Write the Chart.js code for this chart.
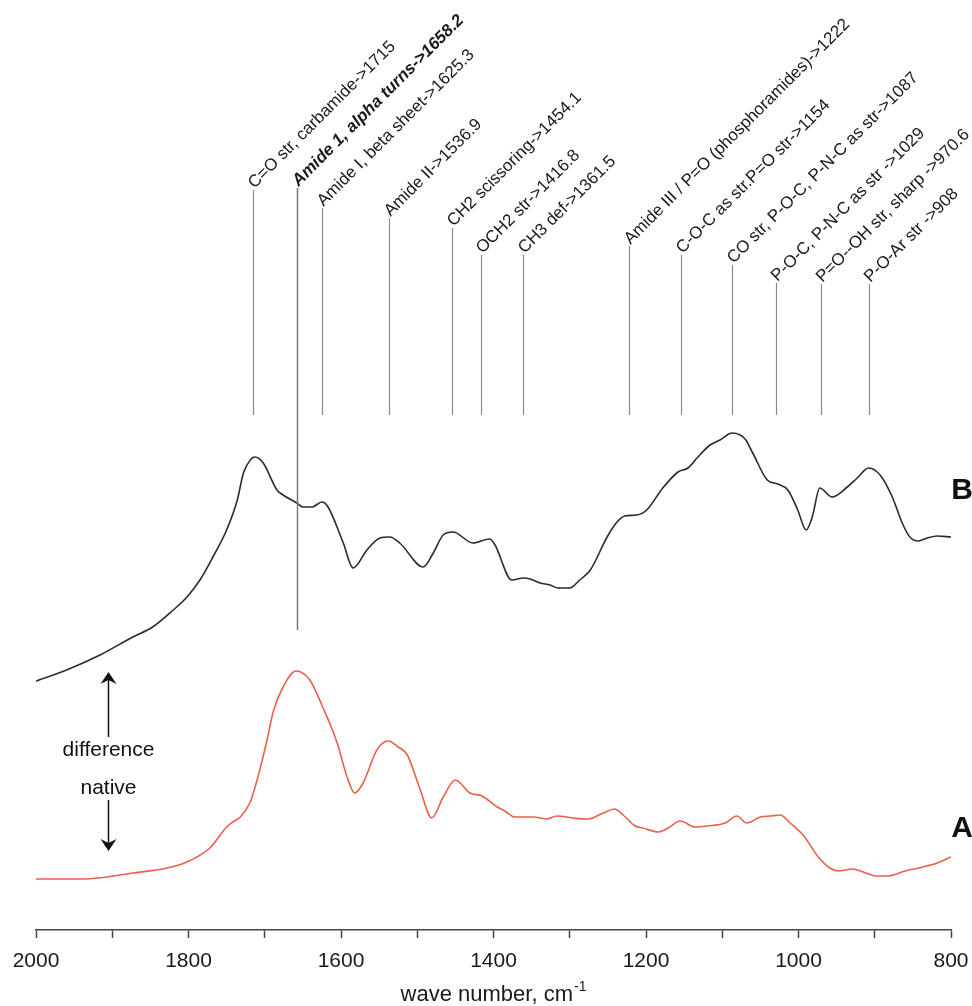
<!DOCTYPE html>
<html>
<head>
<meta charset="utf-8">
<title>FTIR spectra</title>
<script src="https://cdn.jsdelivr.net/npm/chart.js@4.4.1/dist/chart.umd.min.js"></script>
<style>
  html, body { margin: 0; padding: 0; background: #fff; overflow: hidden; }
  canvas { display: block; }
</style>
</head>
<body>
<canvas id="spectra" width="972" height="1006"></canvas>
<script>
// Curve B (difference spectrum): wave number (cm-1) and absorbance, arbitrary units
const diffWave = [2000, 1960, 1916, 1873, 1847, 1820, 1802, 1785, 1768, 1750,
  1736, 1728, 1719, 1713, 1702, 1684, 1676, 1658, 1650, 1638,
  1625, 1617, 1597, 1584, 1566, 1549, 1536, 1523, 1492, 1479,
  1466, 1453, 1427, 1405, 1398, 1376, 1361, 1352, 1339, 1326,
  1315, 1300, 1287, 1273, 1251, 1238, 1228, 1212, 1199, 1178,
  1158, 1145, 1132, 1116, 1103, 1087, 1070, 1060, 1041, 1027,
  1014, 1001, 990, 982, 972, 956, 936, 923, 908, 893,
  877, 864, 854, 843, 831, 818, 800];
const diffAbs = [0.249, 0.260, 0.275, 0.293, 0.303, 0.320, 0.333, 0.350, 0.373, 0.400,
  0.430, 0.457, 0.470, 0.473, 0.467, 0.440, 0.435, 0.427, 0.423, 0.423,
  0.428, 0.423, 0.387, 0.362, 0.380, 0.392, 0.393, 0.387, 0.363, 0.377,
  0.395, 0.398, 0.387, 0.391, 0.385, 0.350, 0.352, 0.351, 0.347, 0.345,
  0.342, 0.342, 0.350, 0.360, 0.393, 0.408, 0.414, 0.415, 0.420, 0.442,
  0.458, 0.462, 0.473, 0.485, 0.490, 0.497, 0.491, 0.477, 0.450, 0.446,
  0.440, 0.420, 0.400, 0.413, 0.442, 0.433, 0.443, 0.452, 0.462, 0.455,
  0.433, 0.407, 0.393, 0.389, 0.392, 0.394, 0.393];

// Curve A (native protein)
const nativeWave = [2000, 1938, 1873, 1828, 1802, 1772, 1750, 1742, 1732, 1719,
  1709, 1697, 1689, 1676, 1659, 1641, 1624, 1605, 1592, 1582,
  1571, 1553, 1538, 1525, 1513, 1496, 1481, 1466, 1450, 1431,
  1415, 1395, 1385, 1372, 1348, 1330, 1317, 1296, 1276, 1256,
  1241, 1230, 1214, 1204, 1184, 1171, 1155, 1136, 1120, 1096,
  1081, 1068, 1050, 1037, 1024, 1011, 994, 974, 959, 948,
  929, 915, 897, 884, 860, 837, 818, 800];
const nativeAbs = [0.051, 0.051, 0.057, 0.062, 0.068, 0.082, 0.103, 0.108, 0.113, 0.128,
  0.153, 0.190, 0.218, 0.243, 0.259, 0.250, 0.223, 0.187, 0.153, 0.137,
  0.147, 0.180, 0.189, 0.183, 0.175, 0.140, 0.112, 0.133, 0.150, 0.137,
  0.134, 0.123, 0.119, 0.113, 0.113, 0.111, 0.114, 0.112, 0.111, 0.117,
  0.121, 0.115, 0.104, 0.102, 0.098, 0.102, 0.109, 0.103, 0.104, 0.107,
  0.114, 0.107, 0.113, 0.114, 0.115, 0.107, 0.095, 0.073, 0.062, 0.059,
  0.061, 0.058, 0.054, 0.054, 0.059, 0.063, 0.067, 0.073];

// band assignments
const bandWave = [1715, 1658.2, 1625.3, 1536.9, 1454.1, 1416.8, 1361.5, 1222, 1154, 1087, 1029, 970.6, 908];
const bandText = [
  'C=O str, carbamide->1715',
  'Amide 1, alpha turns->1658.2',
  'Amide I, beta sheet->1625.3',
  'Amide II->1536.9',
  'CH2 scissoring->1454.1',
  'OCH2 str->1416.8',
  'CH3 def->1361.5',
  'Amide III / P=O (phosphoramides)->1222',
  'C-O-C as str.P=O str->1154',
  'CO str, P-O-C, P-N-C as str->1087',
  'P-O-C, P-N-C as str ->1029',
  'P=O--OH str, sharp ->970.6',
  'P-O-Ar str ->908'
];

const xTickLabels = [2000, 1800, 1600, 1400, 1200, 1000, 800];
const FONT = '"Liberation Sans", Arial, Helvetica, sans-serif';

// top end of each marker line (absorbance units), the highlighted band runs further down
const markTop = [0.740, 0.742, 0.722, 0.712, 0.702, 0.675, 0.675, 0.684, 0.675, 0.665, 0.647, 0.646, 0.646];
const markBottom = 0.515;
const boldBand = 1;
const boldBottom = 0.300;

const toPoints = (xs, ys) => xs.map((w, i) => ({ x: w, y: ys[i] }));

const bandMarks = {
  id: 'bandMarks',
  afterDatasetsDraw(chart) {
    const { ctx, scales: { x, y } } = chart;
    ctx.save();
    bandWave.forEach((w, i) => {
      const px = Math.round(x.getPixelForValue(w)) + 0.5;
      const top = y.getPixelForValue(markTop[i]);
      const bottom = y.getPixelForValue(i === boldBand ? boldBottom : markBottom);
      ctx.strokeStyle = i === boldBand ? '#7a7a7a' : '#8a8a8a';
      ctx.lineWidth = i === boldBand ? 1.5 : 1.2;
      ctx.beginPath();
      ctx.moveTo(px, top);
      ctx.lineTo(px, bottom);
      ctx.stroke();

      ctx.save();
      ctx.translate(px + 1, top - 1);
      ctx.rotate(-Math.PI / 4);
      ctx.fillStyle = '#1a1a1a';
      ctx.font = (i === boldBand ? 'italic bold ' : '') + '17px ' + FONT;
      ctx.textAlign = 'left';
      ctx.textBaseline = 'alphabetic';
      ctx.fillText(bandText[i], 0, 0);
      ctx.restore();
    });
    ctx.restore();
  }
};

function arrowHead(ctx, x, tipY, dir) {
  // dir = -1 points up, 1 points down
  ctx.beginPath();
  ctx.moveTo(x, tipY);
  ctx.lineTo(x + 8, tipY - dir * 12);
  ctx.lineTo(x, tipY - dir * 8);
  ctx.lineTo(x - 8, tipY - dir * 12);
  ctx.closePath();
  ctx.fill();
}

const sideNotes = {
  id: 'sideNotes',
  afterDraw(chart) {
    const { ctx, chartArea, scales: { x, y } } = chart;
    ctx.save();
    ctx.fillStyle = '#111';
    ctx.strokeStyle = '#111';

    // difference / native arrows
    const ax = Math.round(x.getPixelForValue(1905)) + 0.5;
    ctx.lineWidth = 1.5;
    ctx.beginPath();
    ctx.moveTo(ax, y.getPixelForValue(0.254));
    ctx.lineTo(ax, y.getPixelForValue(0.193));
    ctx.moveTo(ax, y.getPixelForValue(0.130));
    ctx.lineTo(ax, y.getPixelForValue(0.083));
    ctx.stroke();
    arrowHead(ctx, ax, y.getPixelForValue(0.258), -1);
    arrowHead(ctx, ax, y.getPixelForValue(0.079), 1);

    ctx.font = '21px ' + FONT;
    ctx.textAlign = 'center';
    ctx.textBaseline = 'middle';
    ctx.fillText('difference', ax, y.getPixelForValue(0.180));
    ctx.fillText('native', ax, y.getPixelForValue(0.142));

    // curve letters
    ctx.font = 'bold 30px ' + FONT;
    ctx.fillText('B', chartArea.right + 11, y.getPixelForValue(0.439));
    ctx.fillText('A', chartArea.right + 11, y.getPixelForValue(0.101));

    // tick labels under the major ticks
    ctx.fillStyle = '#1a1a1a';
    ctx.font = '21px ' + FONT;
    ctx.textBaseline = 'alphabetic';
    xTickLabels.forEach((v) => {
      ctx.fillText(String(v), x.getPixelForValue(v), chartArea.bottom + 37);
    });

    // axis title with superscript unit
    const main = 'wave number, cm';
    const sup = '-1';
    ctx.font = '22px ' + FONT;
    const wMain = ctx.measureText(main).width;
    ctx.font = '14px ' + FONT;
    const wSup = ctx.measureText(sup).width;
    const left = (chartArea.left + chartArea.right) / 2 - (wMain + wSup + 1) / 2;
    ctx.textAlign = 'left';
    ctx.font = '22px ' + FONT;
    ctx.fillText(main, left, chartArea.bottom + 71);
    ctx.font = '14px ' + FONT;
    ctx.fillText(sup, left + wMain + 1, chartArea.bottom + 61);
    ctx.restore();
  }
};

new Chart(document.getElementById('spectra'), {
  type: 'line',
  data: {
    datasets: [
      {
        label: 'B difference',
        data: toPoints(diffWave, diffAbs),
        borderColor: '#2b2b2b',
        borderWidth: 1.6,
        pointRadius: 0,
        cubicInterpolationMode: 'monotone',
        fill: false
      },
      {
        label: 'A native',
        data: toPoints(nativeWave, nativeAbs),
        borderColor: '#e8604e',
        borderWidth: 1.6,
        pointRadius: 0,
        cubicInterpolationMode: 'monotone',
        fill: false
      }
    ]
  },
  options: {
    responsive: false,
    animation: false,
    layout: { padding: { left: 36, right: 21, top: 0, bottom: 0 } },
    plugins: { legend: { display: false }, tooltip: { enabled: false } },
    scales: {
      x: {
        type: 'linear',
        min: 800,
        max: 2000,
        reverse: true,
        afterFit: (scale) => { scale.height = 76; },
        border: { display: true, color: '#444', width: 1.5 },
        grid: { display: true, drawOnChartArea: false, drawTicks: true, tickLength: 8, tickColor: '#444', tickWidth: 1.5 },
        ticks: {
          stepSize: 100,
          autoSkip: false,
          maxRotation: 0,
          display: false
        }
      },
      y: {
        display: false,
        min: 0,
        max: 0.93
      }
    }
  },
  plugins: [bandMarks, sideNotes]
});
</script>
</body>
</html>
